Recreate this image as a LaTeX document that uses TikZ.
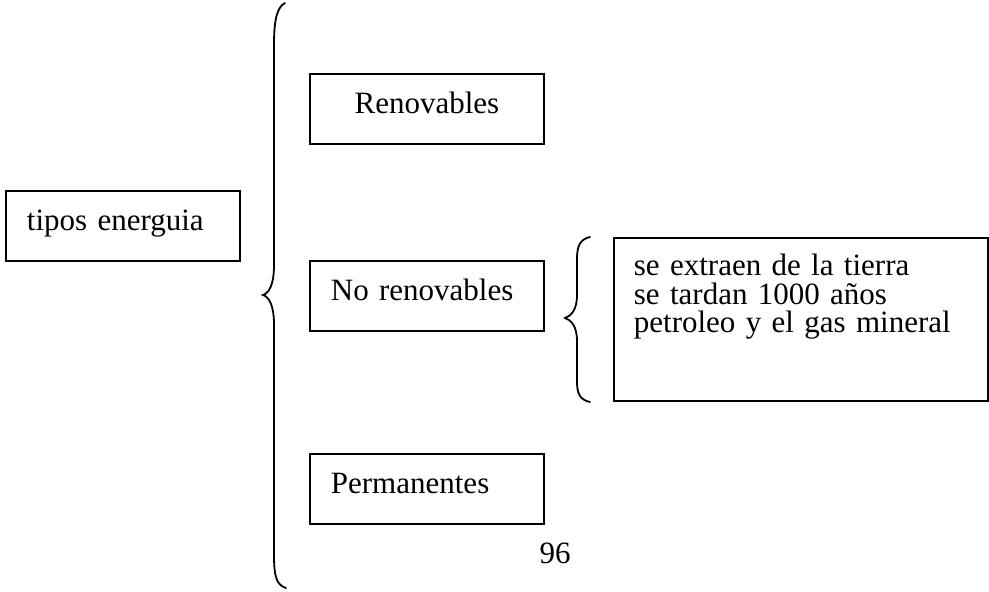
\documentclass[tikz,border=0pt]{standalone}
\usepackage{fontspec}
\setmainfont{Liberation Serif}

\begin{document}
\begin{tikzpicture}[x=0.5pt, y=-0.5pt]
    \tikzstyle{caja}=[
        draw = black,
        line width = 0.9pt,
        fill = white,
        anchor = north west,
        inner ysep = 0pt,
        minimum height = 35pt,
        text height = 11pt,
        text depth = 6pt,
        align = left,
        font = \fontsize{15.5}{14.25}\selectfont
    ]
    \tikzstyle{llave}=[
        draw = black,
        line width = 0.9pt,
        line cap = round
    ]

    \useasboundingbox (0, 0) rectangle (989, 592);

	\node[caja, text width=96pt, inner xsep=10.5pt]    (tipos)   at (5, 190)   {tipos energuia};
	\node[caja, text width=117pt, inner xsep=0pt, align=center] (renov) at (309, 73) {Renovables};
	\node[caja, text width=96pt, inner xsep=10.5pt]    (norenov) at (309, 260) {No renovables};
	\node[caja, text width=96pt, inner xsep=10.5pt]    (perm)    at (309, 453) {Permanentes};
	\node[caja, text width=167pt, inner xsep=10pt, minimum height=81.5pt, text depth=54.5pt] (rasgos) at (613, 237)
	    {se extraen de la tierra\\se tardan 1000 años\\petroleo y el gas mineral};
	\node[anchor=base, inner sep=0pt, font=\fontsize{15.5}{14.25}\selectfont] (pagina) at (555, 563) {96};

	\coordinate (l1a) at (285, 3);
	\coordinate (l1b) at (263, 295);
	\coordinate (l1c) at (286, 588);
	\coordinate (l2a) at (590, 237);
	\coordinate (l2b) at (565, 318);
	\coordinate (l2c) at (590, 402);

	\draw[llave] (l1a) .. controls (277, 7) and (274, 20) .. (274, 45) -- (274, 265)
	    .. controls (274, 285) and (269, 293) .. (l1b)
	    .. controls (269, 297) and (274, 305) .. (274, 325) -- (274, 555)
	    .. controls (274, 578) and (277, 585) .. (l1c);
	\draw[llave] (l2a) .. controls (581, 239) and (577, 245) .. (577, 258) -- (577, 295)
	    .. controls (577, 310) and (571, 316) .. (l2b)
	    .. controls (571, 320) and (577, 326) .. (577, 341) -- (577, 382)
	    .. controls (577, 395) and (581, 400) .. (l2c);

\end{tikzpicture}
\end{document}
